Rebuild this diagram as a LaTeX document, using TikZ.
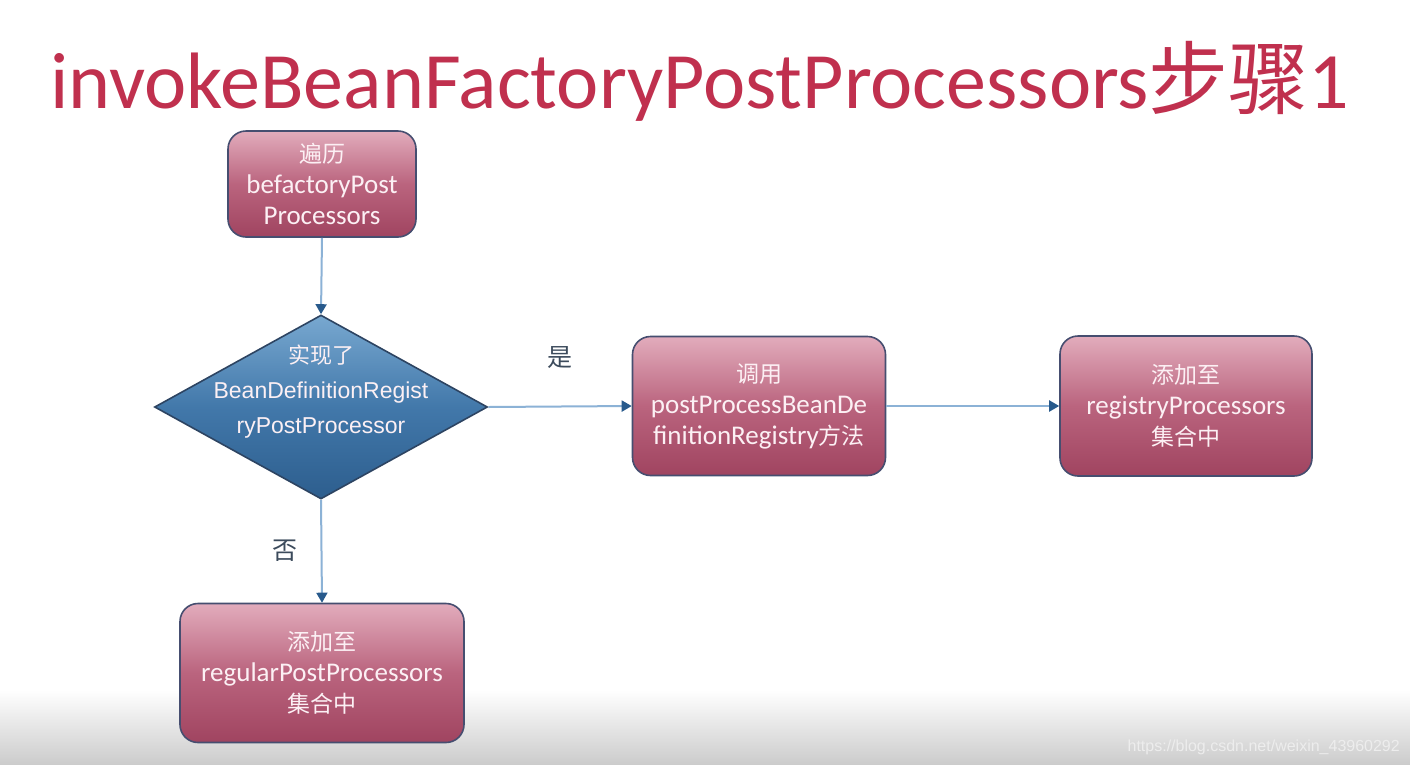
\documentclass[tikz,border=0pt]{standalone}
\usepackage{fontspec}
\setmainfont{Carlito}
\newfontfamily\cjk{Noto Sans CJK SC}
\newfontfamily\arialf{Liberation Sans}
\usetikzlibrary{shapes.geometric,arrows.meta}
\newcommand{\zh}[1]{{\cjk\fontsize{23}{31}\selectfont #1}}
\definecolor{titlered}{RGB}{192,48,78}
\definecolor{boxtop}{RGB}{226,172,188}
\definecolor{boxmid}{RGB}{186,100,126}
\definecolor{boxbot}{RGB}{160,68,96}
\definecolor{boxedge}{RGB}{70,78,112}
\definecolor{diatop}{RGB}{120,168,208}
\definecolor{diamid}{RGB}{66,120,170}
\definecolor{diabot}{RGB}{45,94,142}
\definecolor{diaedge}{RGB}{45,68,98}
\definecolor{linec}{RGB}{140,178,214}
\definecolor{tipc}{RGB}{40,90,140}
\definecolor{lblc}{RGB}{60,75,92}
\definecolor{txtc}{RGB}{252,240,244}
\begin{document}
\begin{tikzpicture}[x=1pt,y=-1pt,
  procbox/.style={draw=boxedge, line width=1.6pt, rounded corners=18pt,
    top color=boxtop, bottom color=boxbot, middle color=boxmid,
    text=txtc, align=center, inner sep=0pt,
    font=\fontsize{27}{31}\selectfont},
  diabox/.style={diamond, draw=diaedge, line width=1.6pt, inner sep=0pt,
    top color=diatop, bottom color=diabot, middle color=diamid},
  diatext/.style={text=txtc, align=center, inner sep=0pt,
    font=\arialf\fontsize{23}{35}\selectfont},
  conn/.style={draw=linec, line width=2pt, -{Triangle[length=10pt,width=11pt,color=tipc]}},
  lbl/.style={text=lblc, inner sep=0pt, font=\cjk\fontsize{25}{28}\selectfont}]
\useasboundingbox (0,0) rectangle (1410,764);
\fill[white] (0,0) rectangle (1410,764);
\shade[top color=white, bottom color=black!20] (0,690) rectangle (1410,764);

\node[anchor=base west, text=titlered, inner sep=0pt,
  font=\fontsize{80}{90}\selectfont] (title) at (50,108)
  {invokeBeanFactoryPostProcessors{\cjk 步骤}1};

\node[procbox, minimum width=188pt, minimum height=106pt] (a) at (322,184)
  {\zh{遍历}\\befactoryPost\\Processors};
\node[diabox, minimum width=333pt, minimum height=184pt] (d) at (321,407) {};
\node[diatext] (dt) at (321,392)
  {{\cjk\fontsize{22}{35}\selectfont 实现了}\\BeanDefinitionRegist\\ryPostProcessor};
\node[procbox, minimum width=253pt, minimum height=139pt] (b) at (759,406)
  {\zh{调用}\\postProcessBeanDe\\finitionRegistry\zh{方法}};
\node[procbox, minimum width=252pt, minimum height=140pt] (c) at (1186,406)
  {\zh{添加至}\\registryProcessors\\\zh{集合中}};
\node[procbox, minimum width=284pt, minimum height=139pt] (e) at (322,673)
  {\zh{添加至}\\regularPostProcessors\\\zh{集合中}};

\draw[conn] (a.south) -- (d.north);
\draw[conn] (d.east) -- (b.west);
\draw[conn] (b.east) -- (c.west);
\draw[conn] (d.south) -- (e.north);

\node[lbl] (yes) at (560,358) {是};
\node[lbl] (no) at (285,551) {否};

\node[anchor=base east, text=white!93!black, inner sep=0pt,
  font=\arialf\fontsize{16}{18}\selectfont] (wm) at (1400,751)
  {https://blog.csdn.net/weixin\_43960292};
\end{tikzpicture}
\end{document}
